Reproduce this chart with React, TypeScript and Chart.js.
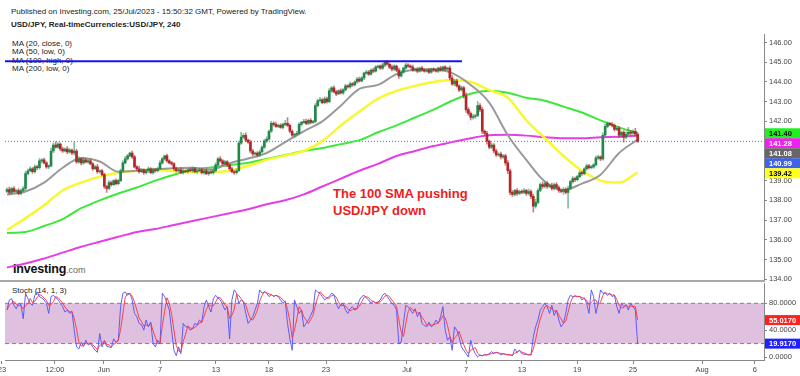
import React, { useEffect, useRef } from 'react';
import { Chart, registerables } from 'chart.js';
Chart.register(...registerables);

// ---- 4h candles, index 0 = 23 May 00:00 ----
const OPEN_FIRST = 138.45;
const CLOSE = [
  138.55, 138.40, 138.60, 138.45, 138.50, 138.35,
  138.50, 138.60, 139.35, 139.50, 139.60, 139.45,
  139.70, 139.65, 140.00, 140.05, 139.90, 139.70,
  139.75, 140.50, 140.80, 140.70, 140.85, 140.60,
  140.50, 140.60, 140.45, 140.55, 140.40, 140.50,
  139.95, 140.10, 139.90, 140.05, 139.95, 140.00,
  139.85, 139.60, 139.70, 139.45, 139.50, 139.30,
  138.70, 138.60, 138.90, 138.80, 139.00, 138.85,
  139.00, 139.50, 139.90, 140.10, 140.25, 140.40,
  140.20, 139.70, 139.60, 139.45, 139.55, 139.40,
  139.50, 139.60, 139.40, 139.55, 139.50, 139.60,
  139.90, 140.10, 140.25, 140.00, 139.90, 139.85,
  139.60, 139.50, 139.55, 139.40, 139.50, 139.45,
  139.55, 139.50, 139.60, 139.45, 139.50, 139.55,
  139.40, 139.50, 139.35, 139.45, 139.40, 139.50,
  139.80, 140.10, 140.00, 139.85, 139.95, 139.80,
  139.60, 139.45, 139.40, 139.50, 140.90, 141.20,
  141.30, 141.05, 140.95, 140.50, 140.35, 140.40,
  140.30, 140.45, 140.70, 141.00, 141.10, 141.50,
  141.90, 141.85, 141.75, 141.80, 141.70, 141.85,
  141.90, 141.80, 141.50, 141.30, 141.35, 141.40,
  141.85, 141.95, 142.00, 141.90, 142.05, 141.95,
  142.00, 142.80, 143.05, 143.10, 142.95, 143.15,
  143.00, 143.55, 143.70, 143.50, 143.40, 143.55,
  143.45, 143.60, 143.80, 143.75, 143.90, 143.85,
  144.00, 144.15, 144.05, 144.20, 144.45, 144.50,
  144.40, 144.60, 144.55, 144.75, 144.80, 144.70,
  144.85, 145.00, 144.90, 144.75, 144.65, 144.80,
  144.60, 144.30, 144.50, 144.70, 144.85, 144.80,
  144.75, 144.60, 144.65, 144.55, 144.70, 144.60,
  144.55, 144.60, 144.50, 144.65, 144.60, 144.55,
  144.70, 144.60, 144.75, 144.65, 144.70, 144.20,
  143.90, 144.05, 143.80, 143.60, 143.70, 143.30,
  142.60, 142.40, 142.20, 142.25, 142.30, 142.80,
  142.60, 141.50, 141.40, 141.00, 140.70, 140.80,
  140.50, 140.30, 140.35, 140.20, 140.25, 139.90,
  139.50, 138.40, 138.30, 138.50, 138.35, 138.45,
  138.40, 138.50, 138.35, 138.45, 138.20, 137.70,
  137.90, 138.50, 138.80, 138.70, 138.85, 138.70,
  138.75, 138.60, 138.80, 138.65, 138.50, 138.45,
  138.55, 138.40, 138.60, 138.95, 139.10, 139.05,
  139.20, 139.40, 139.35, 139.60, 139.75, 139.65,
  139.70, 139.80, 140.15, 140.20, 140.10, 141.30,
  141.75, 141.90, 141.85, 141.80, 141.60, 141.65,
  141.30, 141.45, 141.20, 141.35, 141.45, 141.40,
  141.50, 141.35, 140.99,
];
const UP_WICK = [
  .08, .12, .06, .10, .05, .09, .07, .10, .12, .08, .10, .06,
  .10, .08, .12, .06, .09, .07, .05, .15, .10, .17, .08, .06,
  .10, .06, .12, .08, .05, .47, .08, .10, .06, .12, .07, .09,
  .10, .06, .08, .12, .05, .07, .08, .06, .10, .07, .05, .09,
  .06, .08, .10, .12, .08, .05, .10, .08, .06, .12, .07, .05,
  .08, .10, .06, .09, .07, .08, .12, .08, .05, .10, .06, .08,
  .07, .09, .06, .10, .08, .05, .06, .08, .10, .07, .05, .09,
  .08, .06, .09, .05, .07, .08, .10, .08, .12, .06, .08, .07,
  .05, .08, .06, .10, .10, .25, .08, .12, .06, .10, .08, .05,
  .07, .10, .06, .09, .12, .08, .10, .08, .12, .06, .09, .07,
  .15, .30, .06, .08, .05, .10, .08, .06, .10, .12, .07, .09,
  .05, .10, .08, .12, .06, .10, .08, .12, .06, .10, .08, .07,
  .10, .06, .08, .05, .09, .07, .06, .08, .10, .07, .05, .09,
  .08, .06, .10, .08, .06, .07, .09, .05, .08, .06, .10, .07,
  .06, .10, .08, .05, .10, .08, .07, .10, .05, .08, .06, .09,
  .08, .06, .09, .05, .07, .08, .06, .09, .05, .08, .06, .10,
  .12, .08, .10, .06, .09, .08, .15, .10, .08, .12, .06, .20,
  .10, .12, .08, .10, .06, .12, .08, .10, .06, .09, .07, .10,
  .12, .08, .10, .06, .09, .07, .08, .10, .06, .12, .08, .10,
  .15, .10, .08, .12, .06, .10, .08, .12, .06, .10, .08, .07,
  .10, .08, .12, .06, .10, .08, .07, .10, .08, .06, .09, .07,
  .08, .06, .10, .08, .06, .12, .10, .08, .06, .10, .08, .07,
  .10, .06, .08, .12, .25, .10, .08, .15, .08,
];
const DOWN_WICK = [
  .06, .10, .08, .05, .09, .07, .08, .06, .10, .07, .05, .08,
  .06, .09, .07, .10, .06, .08, .10, .06, .08, .05, .07, .09,
  .07, .05, .09, .06, .08, .10, .08, .06, .10, .07, .05, .08,
  .06, .08, .05, .09, .07, .06, .10, .20, .06, .08, .05, .07,
  .06, .05, .08, .06, .07, .05, .08, .06, .09, .07, .05, .08,
  .06, .08, .05, .07, .09, .06, .05, .07, .06, .08, .05, .07,
  .08, .06, .09, .05, .07, .06, .07, .05, .08, .06, .09, .05,
  .06, .08, .05, .09, .06, .07, .05, .07, .06, .08, .05, .09,
  .08, .06, .09, .07, .05, .06, .07, .08, .06, .10, .08, .06,
  .09, .06, .05, .07, .06, .05, .06, .08, .05, .07, .06, .08,
  .07, .05, .08, .06, .09, .05, .06, .08, .05, .07, .06, .08,
  .05, .07, .06, .08, .05, .06, .07, .05, .08, .06, .09, .05,
  .06, .08, .05, .07, .06, .08, .05, .07, .06, .05, .08, .06,
  .07, .05, .08, .06, .05, .07, .06, .08, .05, .07, .09, .06,
  .08, .12, .06, .05, .07, .06, .05, .07, .06, .08, .05, .07,
  .06, .05, .08, .06, .07, .05, .07, .06, .05, .08, .06, .10,
  .08, .10, .07, .09, .06, .12, .15, .10, .12, .08, .10, .06,
  .10, .12, .08, .15, .10, .08, .10, .08, .06, .10, .07, .12,
  .15, .12, .10, .08, .10, .06, .08, .06, .10, .07, .12, .30,
  .10, .08, .06, .09, .07, .10, .06, .09, .07, .08, .10, .06,
  .15, .08, .80, .06, .08, .10, .07, .05, .09, .06, .08, .07,
  .06, .08, .05, .07, .09, .06, .05, .07, .06, .08, .10, .07,
  .12, .08, .25, .07, .06, .08, .06, .10, .05,
];

// ---- moving averages, one reading every MA_STEP candles ----
const MA_STEP = 8;
const MA20_CLOSE = [138.30, 138.45, 138.90, 139.65, 140.15, 139.97, 139.45, 139.50, 139.58, 139.63, 139.65, 139.56, 139.88, 140.12, 140.40, 140.95, 141.50, 142.00, 142.80, 143.65, 143.85, 144.40, 144.63, 144.65, 144.45, 143.85, 142.95, 141.30, 140.05, 138.95, 138.52, 138.85, 139.30, 140.40, 141.08];
const MA50_LOW = [136.50, 137.10, 137.75, 138.50, 138.90, 139.20, 139.40, 139.50, 139.55, 139.47, 139.45, 139.43, 139.50, 139.75, 140.05, 140.27, 140.50, 141.00, 141.80, 142.50, 143.15, 143.55, 143.80, 144.00, 144.10, 144.00, 143.60, 143.20, 142.05, 141.15, 140.25, 139.50, 139.00, 138.90, 139.42];
const MA100_HIGH = [136.35, 136.40, 136.70, 137.05, 137.60, 138.00, 138.35, 138.65, 139.00, 139.30, 139.55, 139.67, 139.78, 139.90, 140.10, 140.30, 140.50, 140.65, 140.85, 141.05, 141.45, 141.80, 142.20, 142.60, 143.05, 143.40, 143.55, 143.45, 143.20, 143.05, 142.75, 142.45, 142.05, 141.70, 141.40];
const MA200_LOW = [134.60, 134.80, 135.05, 135.35, 135.65, 135.90, 136.15, 136.40, 136.55, 136.75, 136.95, 137.15, 137.35, 137.55, 137.80, 138.00, 138.30, 138.70, 139.10, 139.50, 139.85, 140.25, 140.50, 140.75, 140.95, 141.15, 141.30, 141.32, 141.28, 141.20, 141.15, 141.15, 141.20, 141.22, 141.28];

// ---- Stochastic %K (14,1) per candle ----
const STOCH_K = [
  70, 85, 87, 77, 72, 80, 78, 57, 95, 87,
  80, 77, 92, 97, 90, 88, 85, 80, 65, 90,
  92, 88, 86, 80, 75, 67, 70, 65, 68, 40,
  15, 12, 22, 16, 25, 18, 20, 15, 10, 7,
  35, 15, 24, 16, 15, 14, 27, 22, 25, 75,
  95, 97, 92, 95, 85, 65, 60, 50, 48, 40,
  55, 45, 52, 20, 15, 25, 20, 95, 90, 80,
  70, 40, 10, 2, 15, 5, 50, 45, 45, 40,
  42, 50, 48, 55, 52, 75, 85, 75, 67, 87,
  92, 88, 85, 78, 70, 75, 27, 85, 100, 95,
  80, 85, 82, 65, 50, 55, 60, 70, 80, 100,
  95, 97, 95, 90, 93, 90, 92, 90, 85, 80,
  83, 50, 27, 10, 85, 75, 65, 70, 45, 50,
  55, 62, 70, 100, 97, 95, 90, 85, 88, 90,
  95, 93, 80, 72, 78, 80, 70, 65, 72, 75,
  70, 72, 85, 90, 92, 88, 85, 80, 83, 80,
  82, 85, 92, 95, 90, 85, 80, 77, 70, 20,
  22, 50, 77, 75, 70, 65, 72, 60, 67, 50,
  47, 45, 52, 45, 48, 55, 50, 60, 75, 40,
  25, 30, 10, 45, 40, 30, 15, 10, 5, 0,
  25, 12, 5, 0, 3, 2, 4, 3, 5, 8,
  5, 7, 6, 3, 5, 4, 3, 3, 2, 12,
  7, 10, 5, 4, 4, 3, 3, 30, 45, 55,
  70, 75, 80, 75, 65, 77, 62, 70, 55, 45,
  50, 65, 85, 92, 90, 91, 90, 90, 85, 88,
  80, 65, 100, 90, 65, 80, 100, 95, 95, 92,
  95, 90, 92, 75, 65, 80, 75, 78, 70, 80,
  75.217, 69.917, 19.917,
];
const STOCH_D_PERIOD = 3;

// ---- axes ----
const PRICE_TICKS = [134, 135, 136, 137, 138, 139, 140, 141, 142, 143, 144, 145, 146];
const STOCH_TICKS = [0, 40, 80];
const STOCH_BAND = [20, 80];
const TIME_TICKS = [
  { at: -2.2, label: '23' }, { at: 20.7, label: '12:00' }, { at: 41.8, label: 'Jun' },
  { at: 66, label: '7' }, { at: 90.1, label: '13' }, { at: 113, label: '18' },
  { at: 137.6, label: '23' }, { at: 172.5, label: 'Jul' }, { at: 198, label: '7' },
  { at: 222.1, label: '13' }, { at: 245.9, label: '19' }, { at: 270, label: '25' },
  { at: 299.8, label: 'Aug' }, { at: 322.6, label: '6' },
];
const X_MIN = -0.86;
const X_MAX = 326.5;
const RESISTANCE = { level: 145.05, from: -0.86, to: 196.2 };

const FONT = '"Liberation Sans", Arial, sans-serif';
const UP = '#23874a';
const DOWN = '#b3262a';

const OPEN = CLOSE.map((c, i) => (i === 0 ? OPEN_FIRST : CLOSE[i - 1]));
const HIGH = CLOSE.map((c, i) => Math.max(OPEN[i], c) + UP_WICK[i]);
const LOW = CLOSE.map((c, i) => Math.min(OPEN[i], c) - DOWN_WICK[i]);
const STOCH_D = STOCH_K.map((_, i) => {
  const s = STOCH_K.slice(Math.max(0, i - STOCH_D_PERIOD + 1), i + 1);
  return s.reduce((a, b) => a + b, 0) / s.length;
});
const maPoints = (arr: number[]) => arr.map((v, k) => ({ x: k * MA_STEP, y: v }));

type Box = { v: number; bg: string; fg: string; digits: number };
const boxPlugin = (id: string, items: () => Box[]) => ({
  id,
  afterDraw(chart: any) {
    const { ctx, chartArea } = chart;
    const y = chart.scales.y;
    const list = items().sort((a, b) => b.v - a.v);
    let prev = -Infinity;
    ctx.save();
    ctx.font = `bold 7.5px ${FONT}`;
    ctx.textBaseline = 'middle';
    list.forEach((b) => {
      let py = y.getPixelForValue(b.v);
      if (py < prev + 10) py = prev + 10;
      prev = py;
      ctx.fillStyle = b.bg;
      ctx.fillRect(chartArea.right + 1, py - 5, 800 - chartArea.right - 1, 10);
      ctx.fillStyle = b.fg;
      ctx.fillText(b.v.toFixed(b.digits), chartArea.right + 5, py + 0.5);
    });
    ctx.restore();
  },
});

const yAxisCommon = {
  position: 'right' as const,
  bounds: 'data' as const,
  afterFit: (s: any) => { s.width = 36; s.paddingTop = 0; s.paddingBottom = 0; },
  grid: { drawOnChartArea: false, tickLength: 3, color: '#888' },
  border: { color: '#888' },
};

export default function App() {
  const refA = useRef<HTMLCanvasElement>(null);
  const refB = useRef<HTMLCanvasElement>(null);

  useEffect(() => {
    const lastK = STOCH_K.length - 1;
    const mainChart = new Chart(refA.current as HTMLCanvasElement, {
      type: 'bar',
      data: {
        datasets: [
          {
            type: 'line', data: [{ x: RESISTANCE.from, y: RESISTANCE.level }, { x: RESISTANCE.to, y: RESISTANCE.level }],
            borderColor: '#1414f0', borderWidth: 2, pointRadius: 0, order: -1,
          } as any,
          {
            type: 'line', data: [{ x: X_MIN, y: CLOSE[CLOSE.length - 1] }, { x: X_MAX, y: CLOSE[CLOSE.length - 1] }],
            borderColor: '#4a6cf0', borderWidth: 1, borderDash: [1, 2], pointRadius: 0, order: 9,
          },
          {
            type: 'bar', data: CLOSE.map((c, i) => ({ x: i, y: [LOW[i], HIGH[i]] })),
            backgroundColor: CLOSE.map((c, i) => (c >= OPEN[i] ? 'rgba(35,135,74,0.55)' : 'rgba(179,38,42,0.6)')),
            barThickness: 1, grouped: false, borderWidth: 0, order: 1,
          },
          {
            type: 'bar', data: CLOSE.map((c, i) => ({ x: i, y: [OPEN[i], c] })),
            backgroundColor: CLOSE.map((c, i) => (c >= OPEN[i] ? UP : DOWN)),
            barThickness: 2, grouped: false, borderWidth: 0, minBarLength: 1, order: 0,
          },
          { type: 'line', data: maPoints(MA200_LOW), borderColor: '#e63ee6', borderWidth: 2, pointRadius: 0, cubicInterpolationMode: 'monotone', order: 5 },
          { type: 'line', data: maPoints(MA100_HIGH), borderColor: '#3de83d', borderWidth: 2, pointRadius: 0, cubicInterpolationMode: 'monotone', order: 4 },
          { type: 'line', data: maPoints(MA50_LOW), borderColor: '#f8f830', borderWidth: 2.5, pointRadius: 0, cubicInterpolationMode: 'monotone', order: 3 },
          { type: 'line', data: maPoints(MA20_CLOSE), borderColor: '#9a9a9a', borderWidth: 2, pointRadius: 0, cubicInterpolationMode: 'monotone', order: 2 },
        ] as any,
      },
      options: {
        animation: false, responsive: false, maintainAspectRatio: false,
        layout: { padding: { top: 34, bottom: 1.5, left: 5, right: 0 }, autoPadding: false } as any,
        plugins: { legend: { display: false }, tooltip: { enabled: false } },
        scales: {
          x: { type: 'linear', min: X_MIN, max: X_MAX, display: false, offset: false, bounds: 'data' } as any,
          y: {
            ...yAxisCommon, min: 133.937, max: 146.431,
            afterBuildTicks: (s: any) => { s.ticks = PRICE_TICKS.map((v) => ({ value: v })); },
            ticks: { callback: (v: any) => Number(v).toFixed(2), font: { size: 7.5, family: FONT }, color: '#444', padding: 2 },
          } as any,
        },
      },
      plugins: [boxPlugin('priceBoxes', () => [
        { v: MA100_HIGH[MA100_HIGH.length - 1], bg: '#22ee22', fg: '#000', digits: 2 },
        { v: MA200_LOW[MA200_LOW.length - 1], bg: '#ee22ee', fg: '#fff', digits: 2 },
        { v: MA20_CLOSE[MA20_CLOSE.length - 1], bg: '#666666', fg: '#fff', digits: 2 },
        { v: CLOSE[CLOSE.length - 1], bg: '#3f63e6', fg: '#fff', digits: 2 },
        { v: MA50_LOW[MA50_LOW.length - 1], bg: '#ffff22', fg: '#000', digits: 2 },
      ])],
    });

    const stochChart = new Chart(refB.current as HTMLCanvasElement, {
      type: 'line',
      data: {
        datasets: [
          {
            data: [{ x: X_MIN, y: STOCH_BAND[1] }, { x: X_MAX, y: STOCH_BAND[1] }],
            borderColor: '#8c7a8c', borderWidth: 1, borderDash: [4, 3], pointRadius: 0,
            fill: { value: STOCH_BAND[0] }, backgroundColor: '#dfc1df', order: 5,
          },
          {
            data: [{ x: X_MIN, y: STOCH_BAND[0] }, { x: X_MAX, y: STOCH_BAND[0] }],
            borderColor: '#8c7a8c', borderWidth: 1, borderDash: [4, 3], pointRadius: 0, order: 4,
          },
          { data: STOCH_K.map((v, i) => ({ x: i, y: v })), borderColor: 'rgba(80,80,255,0.9)', borderWidth: 1, pointRadius: 0, order: 1 },
          { data: STOCH_D.map((v, i) => ({ x: i, y: v })), borderColor: 'rgba(255,50,60,0.9)', borderWidth: 1, pointRadius: 0, order: 0 },
        ] as any,
      },
      options: {
        animation: false, responsive: false, maintainAspectRatio: false,
        layout: { padding: { top: 1, bottom: 0, left: 5, right: 0 }, autoPadding: false } as any,
        plugins: { legend: { display: false }, tooltip: { enabled: false } },
        scales: {
          x: {
            type: 'linear', min: X_MIN, max: X_MAX, offset: false, bounds: 'data', position: 'bottom',
            afterFit: (s: any) => { s.height = 16; s.paddingLeft = 0; s.paddingRight = 0; },
            afterBuildTicks: (s: any) => { s.ticks = TIME_TICKS.map((t) => ({ value: t.at })); },
            ticks: {
              autoSkip: false, maxRotation: 0, padding: 1, color: '#444', font: { size: 7.5, family: FONT },
              callback: (v: any) => (TIME_TICKS.find((t) => t.at === v) || { label: '' }).label,
            },
            grid: { drawOnChartArea: false, tickLength: 4, color: '#888' },
            border: { color: '#888' },
          } as any,
          y: {
            ...yAxisCommon, min: -4.47, max: 110.3,
            afterBuildTicks: (s: any) => { s.ticks = STOCH_TICKS.map((v) => ({ value: v })); },
            ticks: { callback: (v: any) => Number(v).toFixed(4), font: { size: 7.5, family: FONT }, color: '#444', padding: 2 },
          } as any,
        },
      },
      plugins: [boxPlugin('stochBoxes', () => [
        { v: STOCH_D[lastK], bg: '#ff2020', fg: '#fff', digits: 4 },
        { v: STOCH_K[lastK], bg: '#2020ff', fg: '#fff', digits: 4 },
      ])],
    });

    return () => { mainChart.destroy(); stochChart.destroy(); };
  }, []);

  const txt: React.CSSProperties = { position: 'absolute', whiteSpace: 'nowrap', color: '#222', fontFamily: FONT };
  return (
    <div style={{ position: 'absolute', left: 0, top: 0, width: 800, height: 376, background: '#fff', overflow: 'hidden' }}>
      <div style={{ ...txt, left: 11, top: 7, fontSize: 8, lineHeight: '10px' }}>
        Published on Investing.com, 25/Jul/2023 - 15:50:32 GMT, Powered by TradingView.
      </div>
      <div style={{ ...txt, left: 11, top: 20, fontSize: 8, lineHeight: '10px', fontWeight: 'bold' }}>
        USD/JPY, Real-timeCurrencies:USD/JPY, 240
      </div>
      <div style={{ ...txt, left: 12, top: 40, fontSize: 8, lineHeight: '8.4px' }}>
        <div>MA (20, close, 0)</div>
        <div>MA (50, low, 0)</div>
        <div>MA (100, high, 0)</div>
        <div>MA (200, low, 0)</div>
      </div>
      <div style={{ ...txt, left: 333, top: 186, fontSize: 13, lineHeight: '16.5px', fontWeight: 'bold', color: '#ee1c1c' }}>
        <div>The 100 SMA pushing</div>
        <div>USD/JPY down</div>
      </div>
      <div style={{ ...txt, left: 13, top: 261, lineHeight: '14px', color: '#111' }}>
        <span style={{ fontSize: 12.5, fontWeight: 'bold', letterSpacing: -0.2 }}>Investing</span>
        <span style={{ fontSize: 9, color: '#666' }}>.com</span>
      </div>
      <div style={{ ...txt, left: 12, top: 286, fontSize: 8, lineHeight: '10px' }}>Stoch (14, 1, 3)</div>
      <canvas ref={refA} width={800} height={282} style={{ position: 'absolute', left: 0, top: 0, width: 800, height: 282 }} />
      <canvas ref={refB} width={800} height={94} style={{ position: 'absolute', left: 0, top: 282, width: 800, height: 94 }} />
      <div style={{ position: 'absolute', left: 0, top: 280, width: 765, height: 2, background: '#a8a8a8' }} />
    </div>
  );
}
